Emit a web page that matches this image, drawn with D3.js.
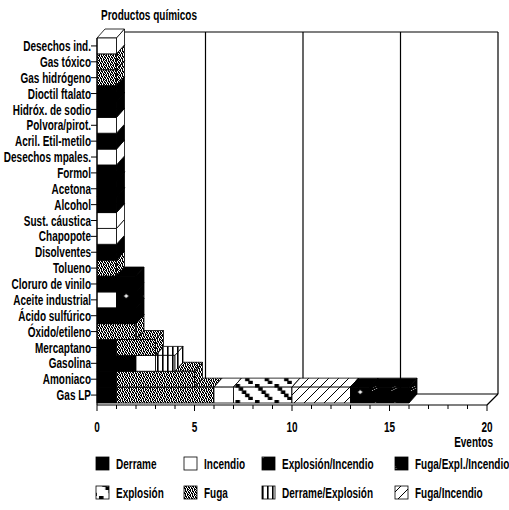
<!DOCTYPE html>
<html><head><meta charset="utf-8">
<script src="https://cdn.jsdelivr.net/npm/d3@7"></script>
<style>
html,body{margin:0;padding:0;background:#fff;}
svg text{font-family:"Liberation Sans",Arial,sans-serif;font-weight:bold;fill:#000;}
</style></head><body>
<svg id="c" width="509" height="510"></svg>
<script>
// ---- data ----
const categories = ["Desechos ind.","Gas tóxico","Gas hidrógeno","Dioctil ftalato","Hidróx. de sodio","Polvora/pirot.","Acril. Etil-metilo","Desechos mpales.","Formol","Acetona","Alcohol","Sust. cáustica","Chapopote","Disolventes","Tolueno","Cloruro de vinilo","Aceite industrial","Ácido sulfúrico","Óxido/etileno","Mercaptano","Gasolina","Amoniaco","Gas LP"];
const derrame           = [0,0,0,1,1,0,1,0,1,1,1,0,0,1,0,2,0,2,0,1,2,1,1];
const fuga              = [0,1,1,0,0,0,0,0,0,0,0,0,0,0,1,0,0,0,2,2,0,4,5];
const incendio          = [1,0,0,0,0,1,0,1,0,0,0,1,1,0,0,0,1,0,0,0,1,0,1];
const explosion         = [0,0,0,0,0,0,0,0,0,0,0,0,0,0,0,0,0,0,0,0,0,0,3];
const fugaIncendio      = [0,0,0,0,0,0,0,0,0,0,0,0,0,0,0,0,0,0,0,0,0,0,3];
const derrameExplosion  = [0,0,0,0,0,0,0,0,0,0,0,0,0,0,0,0,0,0,0,0,1,0,0];
const explosionIncendio = [0,0,0,0,0,0,0,0,0,0,0,0,0,0,0,0,1,0,0,0,0,0,1];
const fugaExplIncendio  = [0,0,0,0,0,0,0,0,0,0,0,0,0,0,0,0,0,0,0,0,0,0,2];
const seriesNames = ["Derrame","Fuga","Incendio","Explosión","Fuga/Incendio","Derrame/Explosión","Explosión/Incendio","Fuga/Expl./Incendio"];
const seriesValues = [derrame,fuga,incendio,explosion,fugaIncendio,derrameExplosion,explosionIncendio,fugaExplIncendio];
const legendRows = [["Derrame","Incendio","Explosión/Incendio","Fuga/Expl./Incendio"],["Explosión","Fuga","Derrame/Explosión","Fuga/Incendio"]];
const xTicks = [0,5,10,15,20];
const titleText = "Productos químicos";
const xAxisTitle = "Eventos";

// ---- setup ----
const svg = d3.select("#c");
const x = d3.scaleLinear().domain([0,20]).range([97,487]);
const y = d3.scaleBand().domain(categories).range([38,403]).padding(0);
const BDX = 8, BDY = 9;   // bar depth
const WD = 11;            // wall depth
const FS = 14.5;
const SX = 0.69;          // condensed look

function addText(parent, tx, ty, str, size, anchor, dy){
  return parent.append("text")
    .attr("transform",`translate(${tx},${ty}) scale(${SX},1)`)
    .attr("text-anchor",anchor||"start").attr("dy",dy||0)
    .attr("font-size",size).text(str);
}

// patterns
const defs = svg.append("defs");
function pat(id,w,h,draw,ox){
  const p = defs.append("pattern").attr("id",id).attr("patternUnits","userSpaceOnUse")
    .attr("width",w).attr("height",h).attr("x",ox||0).attr("y",0);
  draw(p); return p;
}
pat("p-fuga",7,5,p=>{
  p.append("rect").attr("width",7).attr("height",5).attr("fill","#fff");
  for(let a=0;a<7;a++) for(let b=0;b<5;b++) if((a*3+b*5)%7<4)
    p.append("rect").attr("x",a).attr("y",b).attr("width",1).attr("height",1).attr("fill","#000");
});
pat("p-explosion",19.5,16,p=>{
  p.append("rect").attr("width",19.5).attr("height",16).attr("fill","#fff");
  for(let k=0;k<5;k++) p.append("rect").attr("x",2+k*3.2).attr("y",k*3.2).attr("width",4.5).attr("height",3.6).attr("fill","#000");
},97);
pat("p-derrexp",5,10,p=>{
  p.append("rect").attr("width",5).attr("height",10).attr("fill","#fff");
  p.append("rect").attr("x",0).attr("width",1.6).attr("height",10).attr("fill","#000");
},97);
pat("p-fugainc",10,10,p=>{
  p.append("rect").attr("width",10).attr("height",10).attr("fill","#fff");
  p.append("path").attr("d","M0,10L10,0M-1,1L1,-1M9,11L11,9").attr("stroke","#000").attr("stroke-width",1);
},97);
pat("p-expinc",19.5,16,p=>{
  p.append("rect").attr("width",19.5).attr("height",16).attr("fill","#000");
  p.append("circle").attr("cx",9.75).attr("cy",8).attr("r",1.6).attr("fill","#fff");
  p.append("path").attr("d","M7.5,8H12M9.75,5.8V10.2").attr("stroke","#ddd").attr("stroke-width",0.7);
},97);
pat("p-fei",19.5,16,p=>{
  p.append("rect").attr("width",19.5).attr("height",16).attr("fill","#000");
  [[3,3],[5,2],[4,5],[6,4],[2,6]].forEach(([a,b])=>
    p.append("rect").attr("x",a).attr("y",b).attr("width",1).attr("height",1).attr("fill","#bbb"));
},97);
const fills = {
  "Derrame":"#000","Incendio":"#fff","Explosión/Incendio":"url(#p-expinc)","Fuga/Expl./Incendio":"url(#p-fei)",
  "Explosión":"url(#p-explosion)","Fuga":"url(#p-fuga)","Derrame/Explosión":"url(#p-derrexp)","Fuga/Incendio":"url(#p-fugainc)"
};

// ---- back wall & floor ----
const wall = svg.append("g").attr("stroke","#000").attr("stroke-width",1.2).attr("fill","none");
const wTop = 32, wBot = 405 - WD;
wall.append("line").attr("x1",x(0)+WD).attr("x2",x(20)+WD).attr("y1",wTop).attr("y2",wTop);
wall.append("line").attr("x1",x(0)+WD).attr("x2",x(20)+WD).attr("y1",wBot).attr("y2",wBot);
xTicks.filter(v=>v>0).forEach(v=>{
  wall.append("line").attr("x1",x(v)+WD).attr("x2",x(v)+WD).attr("y1",wTop).attr("y2",wBot);
});
wall.append("line").attr("x1",x(20)+WD).attr("y1",wBot).attr("x2",x(20)).attr("y2",405);

// ---- bars ----
const table = categories.map((c,i)=>{const o={cat:c}; seriesNames.forEach((s,k)=>o[s]=seriesValues[k][i]); return o;});
const stacked = d3.stack().keys(seriesNames)(table);
const barsG = svg.append("g").attr("stroke","#000").attr("stroke-width",0.8).attr("stroke-linejoin","round");
for(let i=categories.length-1;i>=0;i--){
  const yt = y(categories[i]), yb = yt + y.bandwidth();
  stacked.forEach(layer=>{
    const d = layer[i];
    if(d[1]-d[0] <= 0) return;
    const x0 = x(d[0]), x1 = x(d[1]);
    const g = barsG.append("g").attr("fill",fills[layer.key]);
    g.append("polygon").attr("points",[[x0,yt],[x1,yt],[x1+BDX,yt-BDY],[x0+BDX,yt-BDY]].join(" "));
    g.append("rect").attr("x",x0).attr("y",yt).attr("width",x1-x0).attr("height",yb-yt);
    g.append("polygon").attr("points",[[x1,yt],[x1+BDX,yt-BDY],[x1+BDX,yb-BDY],[x1,yb]].join(" "));
  });
}

// ---- axes ----
const ax = svg.append("g").attr("stroke","#000");
ax.append("line").attr("x1",x(0)).attr("x2",x(0)).attr("y1",38).attr("y2",405).attr("stroke-width",1.2);
ax.append("line").attr("x1",x(0)).attr("x2",x(20)).attr("y1",405).attr("y2",405).attr("stroke-width",1.2);
d3.range(0,21).forEach(v=>{
  ax.append("line").attr("x1",x(v)).attr("x2",x(v)).attr("y1",405).attr("y2",xTicks.includes(v)?411:409).attr("stroke-width",1);
});
categories.forEach(c=>{
  const cy = y(c)+y.bandwidth()/2;
  ax.append("line").attr("x1",91).attr("x2",97).attr("y1",cy).attr("y2",cy).attr("stroke-width",1);
});
const labG = svg.append("g");
categories.forEach(c=>addText(labG, 91, y(c)+y.bandwidth()/2, c, FS, "end", "0.35em"));
xTicks.forEach(v=>addText(labG, x(v), 432, v, FS, "middle"));
addText(labG, 493, 447, xAxisTitle, FS, "end");
addText(labG, 101, 20, titleText, FS, "start");

// ---- legend ----
const colX = [96,184,262,395], rowY = [457,486];
legendRows.forEach((row,r)=>row.forEach((name,c)=>{
  const g = svg.append("g");
  g.append("rect").attr("x",colX[c]).attr("y",rowY[r]).attr("width",13).attr("height",13)
    .attr("fill",fills[name]).attr("stroke","#000").attr("stroke-width",0.8);
  addText(g, colX[c]+20, rowY[r]+11.5, name, FS, "start");
}));
</script></body></html>
